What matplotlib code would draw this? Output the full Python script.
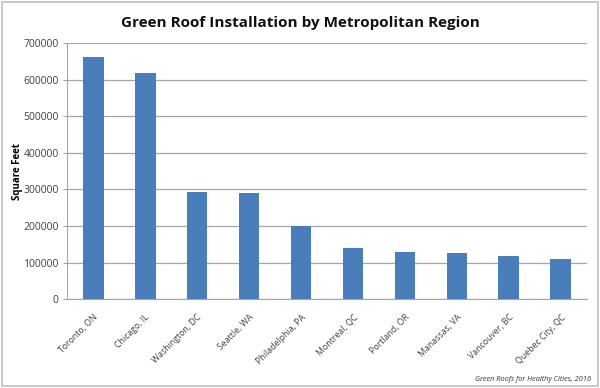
import matplotlib.pyplot as plt
import matplotlib.ticker as ticker

regions = ['Toronto, ON', 'Chicago, IL', 'Washington, DC', 'Seattle, WA',
           'Philadelphia, PA', 'Montreal, QC', 'Portland, OR', 'Manassas, VA',
           'Vancouver, BC', 'Quebec City, QC']
square_feet = [661000, 617500, 293000, 291000, 199000,
               139000, 128000, 126000, 118000, 109500]

fig = plt.figure(figsize=(6, 3.88), dpi=100)
ax = fig.add_axes([0.112, 0.229, 0.866, 0.66])

ax.bar(range(len(regions)), square_feet, width=0.40, color='#4a7ebb', zorder=3)

ax.set_xlim(-0.5, len(regions) - 0.5)
ax.set_ylim(0, 700000)
ax.yaxis.set_major_locator(ticker.MultipleLocator(100000))
ax.yaxis.set_major_formatter(ticker.FuncFormatter(lambda v, p: '%d' % v))
ax.grid(axis='y', color='#a6a6a6', linewidth=0.9, zorder=0)

for s in ['top', 'right']:
    ax.spines[s].set_visible(False)
ax.spines['left'].set_color('#a6a6a6')
ax.spines['bottom'].set_color('#a6a6a6')

ax.set_xticks(range(len(regions)))
ax.set_xticklabels(regions, rotation=45, ha='right', rotation_mode='anchor',
                   fontsize=6.3, color='#404040', family='Open Sans')
ax.tick_params(axis='x', length=0, pad=10)
ax.tick_params(axis='y', length=3, color='#a6a6a6', labelsize=7.5,
               labelcolor='#404040', pad=3)
for lab in ax.get_yticklabels():
    lab.set_family('Open Sans')

ax.set_ylabel('Square Feet', fontsize=7, fontweight='bold', family='Open Sans',
              labelpad=0)

fig.text(0.5, 0.94, 'Green Roof Installation by Metropolitan Region',
         ha='center', va='center', fontsize=11, fontweight='bold',
         family='Open Sans', color='#111111')
fig.text(0.986, 0.012, 'Green Roofs for Healthy Cities, 2016', ha='right',
         va='bottom', fontsize=5.3, style='italic', family='Open Sans',
         color='#333333')

# light frame around the whole chart
fig.patches.append(plt.Rectangle((0.003, 0.004), 0.994, 0.992,
                                 transform=fig.transFigure, fill=False,
                                 edgecolor='#bfbfbf', linewidth=1.2))

fig.savefig('out.png', dpi=100)
